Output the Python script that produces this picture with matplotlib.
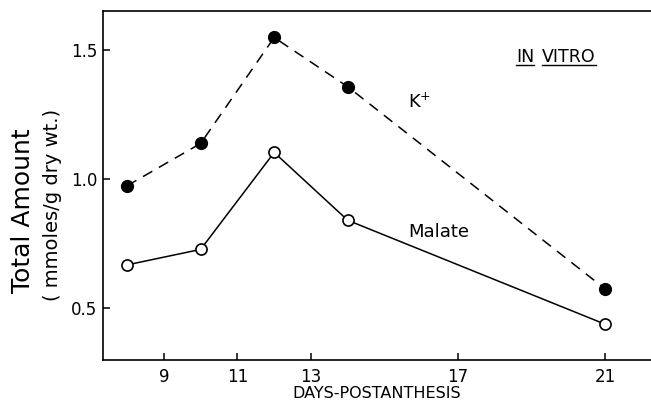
import matplotlib
matplotlib.use("Agg")
import matplotlib.pyplot as plt
from matplotlib.lines import Line2D

days = [8, 10, 12, 14, 21]
k_values = [0.974, 1.138, 1.549, 1.358, 0.574]
malate_values = [0.667, 0.727, 1.103, 0.840, 0.437]
x_ticks = [9, 11, 13, 17, 21]
y_ticks = [0.5, 1.0, 1.5]
y_tick_labels = ["0.5", "1.0", "1.5"]

plt.rcParams['font.family'] = ['DejaVu Sans']

fig = plt.figure(figsize=(6.51, 4.08), dpi=100)
ax = fig.add_axes([0.158, 0.1176, 0.842, 0.855])

ax.plot(days, k_values, color='black', lw=1.1, dashes=(7, 5),
        marker='o', ms=8.5, mfc='black', mec='black', zorder=3)
ax.plot(days, malate_values, color='black', lw=1.1,
        marker='o', ms=8, mfc='white', mec='black', mew=1.2, zorder=3)

ax.set_xlim(7.34, 22.25)
ax.set_ylim(0.298, 1.651)
ax.set_xticks(x_ticks)
ax.set_xticklabels([str(t) for t in x_ticks])
ax.set_yticks(y_ticks)
ax.set_yticklabels(y_tick_labels)
ax.tick_params(direction='in', length=5, width=1.1, labelsize=12, pad=4)
ax.tick_params(axis='x', pad=6)
for s in ['left', 'bottom', 'top']:
    ax.spines[s].set_linewidth(1.2)
ax.spines['right'].set_visible(False)

ax.set_xlabel("DAYS-POSTANTHESIS", fontsize=11.5, labelpad=0)

fig.text(0.036, 0.483, "Total Amount", rotation=90, fontsize=18,
         ha='center', va='center')
fig.text(0.080, 0.498, "( mmoles/g dry wt.)", rotation=90, fontsize=14,
         ha='center', va='center')

ax.text(15.64, 1.30, "K$^{+}$", fontsize=13, ha='left', va='center')
ax.text(15.64, 0.795, "Malate", fontsize=13, ha='left', va='center')

t1 = ax.text(18.58, 1.473, "IN", fontsize=12.5, ha='left', va='center')
t2 = ax.text(19.29, 1.473, "VITRO", fontsize=12.5, ha='left', va='center')

fig.canvas.draw()
r = fig.canvas.get_renderer()
for t in (t1, t2):
    bb = t.get_window_extent(r)
    y = bb.y0 + 1
    fig.add_artist(Line2D([bb.x0 / fig.bbox.width, bb.x1 / fig.bbox.width],
                          [y / fig.bbox.height, y / fig.bbox.height],
                          transform=fig.transFigure, color='black', lw=1.0))

fig.savefig("out.png", dpi=100)
